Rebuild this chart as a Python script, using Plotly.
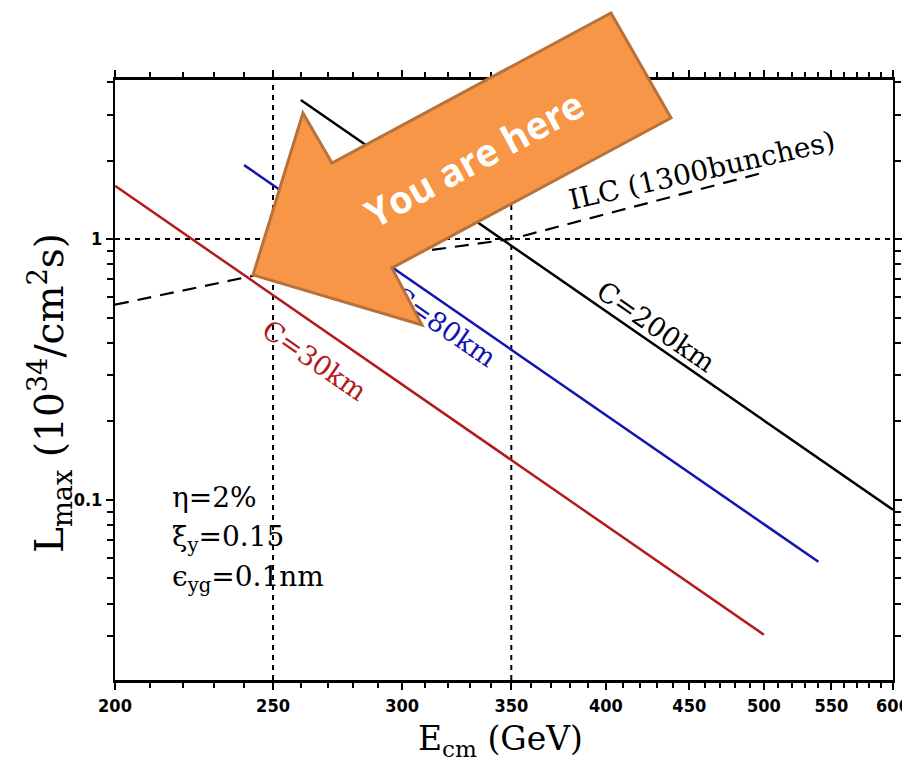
import math
import plotly.graph_objects as go

# ---------------- data ----------------
c200_energy = [260, 600]
c200_lum = [3.41, 0.0916]
c80_energy = [240, 540]
c80_lum = [1.92, 0.0579]
c30_energy = [200, 500]
c30_lum = [1.60, 0.0304]
ilc_energy = [200, 250, 350, 500]
ilc_lum = [0.56, 0.75, 1.0, 1.8]
ref_energies = [250, 350]
ref_lum = 1.0
x_range = [200, 600]
y_range = [0.0204, 4.07]
x_ticks = [200, 250, 300, 350, 400, 450, 500, 550, 600]
x_ticklabels = ["200", "250", "300", "350", "400", "450", "500", "550", "600"]
x_minor = [v for v in range(210, 600, 10) if v % 50 != 0]
y_ticks = [0.1, 1]
y_ticklabels = ["0.1", "1"]
y_minor = [0.02, 0.03, 0.04, 0.05, 0.06, 0.07, 0.08, 0.09,
           0.2, 0.3, 0.4, 0.5, 0.6, 0.7, 0.8, 0.9, 2, 3, 4]

# ---------------- layout geometry ----------------
OFF = 8  # page body margin
W, H = 910 - OFF, 769 - 2 * OFF
L, T = 115 - OFF, 80 - OFF
R = W - (893 - OFF)
B = H - (680 - OFF)
PW, PH = W - L - R, H - T - B


def P(px, py):
    """reference-screenshot pixel -> paper coordinates"""
    return (px - OFF - L) / PW, (H - B - (py - OFF)) / PH


RED = "#B31B1B"
BLUE = "#1414B0"
SERIF = "DejaVu Serif"

fig = go.Figure()

dot = "5px,5px"
for e in ref_energies:
    fig.add_trace(go.Scatter(x=[e, e], y=y_range, mode="lines",
                             line=dict(color="black", width=2, dash=dot),
                             hoverinfo="skip", showlegend=False))
fig.add_trace(go.Scatter(x=x_range, y=[ref_lum, ref_lum], mode="lines",
                         line=dict(color="black", width=2, dash=dot),
                         hoverinfo="skip", showlegend=False))

fig.add_trace(go.Scatter(x=ilc_energy, y=ilc_lum, mode="lines",
                         line=dict(color="black", width=2.2, dash="14px,9px"),
                         showlegend=False))
fig.add_trace(go.Scatter(x=c30_energy, y=c30_lum, mode="lines",
                         line=dict(color=RED, width=2.5), showlegend=False))
fig.add_trace(go.Scatter(x=c80_energy, y=c80_lum, mode="lines",
                         line=dict(color=BLUE, width=2.5), showlegend=False))
fig.add_trace(go.Scatter(x=c200_energy, y=c200_lum, mode="lines",
                         line=dict(color="black", width=2.5), showlegend=False))

annotations = []


def txt(text, px, py, size, color="black", angle=0, xanchor="center", family=SERIF, **kw):
    x, y = P(px, py)
    annotations.append(dict(text=text, x=x, y=y, xref="paper", yref="paper",
                            showarrow=False, textangle=angle, xanchor=xanchor,
                            yanchor="middle",
                            font=dict(family=family, size=size, color=color, **kw)))


txt("C=200km", 656, 326, 27, angle=34.7)
txt("C=30km", 315, 360, 27, color=RED, angle=34.6)
txt("ILC (1300bunches)", 702, 170, 28, angle=-12.7)
txt("η=2%", 170, 497, 28, xanchor="left")
txt("ξ<sub>y</sub>=0.15", 170, 538, 28, xanchor="left")
txt("ϵ<sub>yg</sub>=0.1nm", 170, 578, 28, xanchor="left")
txt("E<sub>cm</sub> (GeV)", 500, 740, 33)
txt("L<sub>max</sub> (10<sup>34</sup>/cm<sup>2</sup>s)", 50, 393, 39, angle=-90)
txt("You are here", 474, 158, 38, color="white", angle=-28.5,
    family="Open Sans", weight="bold")

shapes = []
# label for C=80km drawn in the shape layer so the arrow can cover it
x0, y0 = P(397, 292)
x1, y1 = P(493, 358)
shapes.append(dict(type="line", xref="paper", yref="paper", x0=x0, y0=y0, x1=x1, y1=y1,
                   line=dict(color="rgba(0,0,0,0)", width=1), layer="above",
                   label=dict(text="C=80km", textposition="middle", xanchor="center",
                              yanchor="middle",
                              font=dict(family=SERIF, size=27, color=BLUE))))

arrow_px = [(611, 13), (671, 118), (392, 268), (422, 325), (253, 275), (303, 113), (332, 163)]
pts = [P(a, b) for a, b in arrow_px]
path = "M " + " L ".join(f"{a:.4f},{b:.4f}" for a, b in pts) + " Z"
shapes.append(dict(type="path", xref="paper", yref="paper", path=path,
                   fillcolor="#F79646", line=dict(color="#B7713A", width=3),
                   layer="above"))

axis_common = dict(showgrid=False, zeroline=False, showline=True, linecolor="black",
                   mirror="ticks", ticks="outside", tickcolor="black",
                   type="log", automargin=False)
tick_font = dict(family="DejaVu Sans Condensed", size=18, color="black", weight="bold")

fig.update_layout(
    width=W, height=H,
    margin=dict(l=L, r=R, t=T, b=B, pad=0, autoexpand=False),
    paper_bgcolor="white", plot_bgcolor="white",
    xaxis=dict(**axis_common, range=[math.log10(x_range[0]), math.log10(x_range[1])],
               linewidth=3, ticklen=7, tickwidth=2,
               tickmode="array", tickvals=x_ticks, ticktext=x_ticklabels,
               tickfont=tick_font,
               minor=dict(tickmode="array", tickvals=x_minor, ticks="outside",
                          ticklen=5, tickwidth=2, tickcolor="black")),
    yaxis=dict(**axis_common, range=[math.log10(y_range[0]), math.log10(y_range[1])],
               linewidth=2, ticklen=7, tickwidth=2,
               tickmode="array", tickvals=y_ticks, ticktext=y_ticklabels,
               tickfont=tick_font,
               minor=dict(tickmode="array", tickvals=y_minor, ticks="outside",
                          ticklen=6, tickwidth=2, tickcolor="black")),
    annotations=annotations,
    shapes=shapes,
)

fig.write_html("out.html")
